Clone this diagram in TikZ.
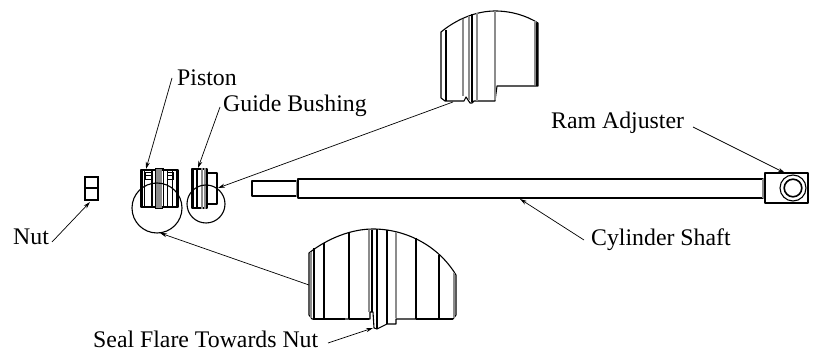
\documentclass[tikz,border=0pt]{standalone}
\usepackage{fontspec}
\setmainfont{Liberation Serif}
\usetikzlibrary{arrows.meta}
\definecolor{bandgray}{gray}{0.55}
\tikzset{
  part/.style={draw=black,line width=1.1pt,line join=round},
  thin part/.style={draw=black,line width=0.8pt},
  thick part/.style={draw=black,line width=1.6pt},
  band/.style={draw=bandgray,line width=1.4pt},
  leader/.style={draw=black,line width=0.7pt,-{Stealth[length=7pt,width=4pt]}},
  ring/.style={draw=black,line width=1.1pt},
  lab/.style={font=\fontsize{23.8}{26}\selectfont,inner sep=0pt,text=black,anchor=base west}
}
\begin{document}
\begin{tikzpicture}[x=1pt,y=-1pt]
\useasboundingbox (0,0) rectangle (814,352);
\fill[white] (0,0) rectangle (814,352);

% Labels
\node[lab] (nut) at (13,245) {Nut};
\node[lab] (piston) at (177,86) {Piston};
\node[lab] (guide) at (223,112) {Guide Bushing};
\node[lab] (ram) at (551,129) {Ram Adjuster};
\node[lab] (shaft) at (591,246) {Cylinder Shaft};
\node[lab] (seal) at (93,348) {Seal Flare Towards Nut};

% Nut
\draw[thick part] (85,177) rectangle (98,200);
\draw[part] (85,188) -- (98,188);
\coordinate (nuttip) at (90,202);
\coordinate (nutstart) at (52,242);

% Piston
\draw[part] (141,170) rectangle (178,207);
\foreach \x in {144,152,167,172,176}{\draw[thin part] (\x,170) -- (\x,207);}
\draw[thick part] (142,170) -- (142,207);
\draw[thick part] (152,170) -- (152,207);
\draw[band] (159,168) -- (159,208);
\draw[band] (157,168) -- (157,208);
\draw[band] (161,168) -- (161,208);
\draw[thin part] (155,168) -- (155,208) (163,168) -- (163,208) (155,168) -- (163,168) (155,208) -- (163,208);
\draw[thin part] (145,172) rectangle (151,179);
\draw[thin part] (167,172) rectangle (173,179);
\draw[thin part] (145,175) -- (151,175) (167,175) -- (173,175);
\coordinate (pistontip) at (146,169);
\coordinate (pistonstart) at (172,78);

% Guide bushing
\draw[part] (192,169) rectangle (207,208);
\draw[part] (207,173) -- (217,173) -- (217,204) -- (207,204);
\draw[thick part] (193,169) -- (193,208);
\draw[thick part] (197,169) -- (197,208);
\draw[band] (202,168) -- (202,209);
\draw[band] (205,168) -- (205,209);
\coordinate (guidetip) at (198,168);
\coordinate (guidestart) at (220,107);

% Detail circles
\node[ring,circle,minimum size=50pt,inner sep=0pt] (pc) at (157,208) {};
\node[ring,circle,minimum size=38pt,inner sep=0pt] (gc) at (206,204) {};
\coordinate (gctip) at (218,188);
\coordinate (pctip) at (160,233);

% Cylinder shaft
\draw[part] (252,181) rectangle (297,196);
\draw[band] (297,180) -- (297,197);
\draw[part] (298,179) rectangle (763,198);
\draw[band] (763,179) -- (763,198);
\draw[part] (765,173) rectangle (808,203);
\draw[ring] (793,188) circle (13);
\draw[thick part] (793,188) circle (8.8);
\coordinate (ramtip) at (785,173);
\coordinate (ramstart) at (693,127);
\coordinate (shafttip) at (520,199);
\coordinate (shaftstart) at (584,240);

% Upper detail
\draw[part] (441,98) -- (441,32) .. controls (458,18) and (478,11) .. (495,11)
  .. controls (512,11) and (527,16) .. (538,23) -- (538,86) -- (497,86) -- (495,101)
  -- (477,101) -- (474,101) -- (472,103) -- (470,103) -- (468,100) -- (466,97) -- (464,101) -- (445,101) -- cycle;
\draw[part] (446,30) -- (446,101);
\draw[band] (463,19) -- (463,96);
\draw[band] (469,16) -- (469,100);
\draw[thick part] (472,14) -- (472,102);
\draw[band] (477,13) -- (477,101);
\draw[band] (495,11) -- (495,100);
\draw[band] (535,21) -- (535,85);
\draw[thick part] (537,23) -- (537,86);
\coordinate (topanchor) at (453,102);

% Lower detail
\draw[part] (309,253) .. controls (328,238) and (352,229) .. (373,229)
  .. controls (405,229) and (438,245) .. (456,275) -- (456,315) -- (453,319) -- (396,319)
  -- (396,324) -- (387,324) -- (377,329) -- (374,328) -- (373,312) -- (370,312) -- (370,319) -- (312,319) -- (309,315) -- cycle;
\draw[band] (311,252) -- (311,318);
\draw[part] (314,248) -- (314,319);
\draw[part] (324,243) -- (324,319);
\draw[thick part] (349,233) -- (349,319);
\draw[band] (369,230) -- (369,312);
\draw[thick part] (372,230) -- (372,312);
\draw[part] (377,229) -- (377,329);
\draw[part] (387,230) -- (387,324);
\draw[band] (396,232) -- (396,318);
\draw[part] (416,238) -- (416,319);
\draw[thick part] (439,255) -- (439,319);
\draw[band] (454,273) -- (454,318);
\draw[thick part] (313,319) -- (345,319) (349,319) -- (369,319) (416,319) -- (453,319);
\coordinate (lowanchor) at (309,285);
\coordinate (sealstart) at (328,343);
\coordinate (sealtip) at (373,328);

% Leaders
\draw[leader] (nutstart) -- (nuttip);
\draw[leader] (pistonstart) -- (pistontip);
\draw[leader] (guidestart) -- (guidetip);
\draw[leader] (topanchor) -- (gctip);
\draw[leader] (lowanchor) -- (pctip);
\draw[leader] (ramstart) -- (ramtip);
\draw[leader] (shaftstart) -- (shafttip);
\draw[leader] (sealstart) -- (sealtip);
\end{tikzpicture}
\end{document}
